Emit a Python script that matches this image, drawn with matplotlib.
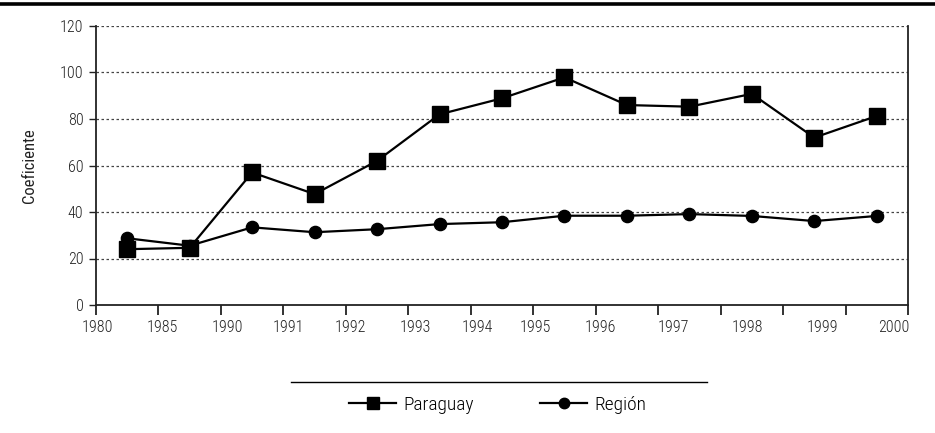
import matplotlib
matplotlib.use("Agg")
import matplotlib.pyplot as plt
from matplotlib.lines import Line2D
import matplotlib.font_manager as fm

names = {f.name for f in fm.fontManager.ttflist}
main = "Roboto Condensed" if "Roboto Condensed" in names else "Liberation Sans"
plt.rcParams['font.family'] = [main, "DejaVu Sans"]
plt.rcParams['font.weight'] = 300

# data
tick_labels = ["1980", "1985", "1990", "1991", "1992", "1993", "1994",
               "1995", "1996", "1997", "1998", "1999", "2000"]
paraguay = [24, 24.6, 57, 47.7, 62, 82, 88.9, 97.9, 86, 85.3, 90.8, 72, 81.3]
region = [28.7, 25.5, 33.4, 31.3, 32.6, 34.8, 35.6, 38.4, 38.4, 39.1, 38.3, 36.1, 38.3]

# layout: where each tick label sits along the axis (in slot units)
label_pos = [0.02, 1.06, 2.1, 3.08, 4.07, 5.11, 6.1, 7.03, 8.08, 9.25, 10.43, 11.63, 12.77]

fig = plt.figure(figsize=(9.35, 4.33), dpi=100)
ax = fig.add_axes([96/935, 1-305/433, (908-96)/935, (305-26)/433])

n = len(paraguay)
xs = [i + 0.5 for i in range(n)]
ax.plot(xs, paraguay, color="black", lw=1.6, marker="s", ms=11, zorder=3)
ax.plot(xs, region, color="black", lw=1.6, marker="o", ms=8.8, zorder=3)

ax.set_xlim(0, n)
ax.set_ylim(0, 120)
ax.set_yticks(range(0, 121, 20))
ax.set_xticks(range(0, n + 1))
ax.set_xticklabels([])
for lab, p in zip(tick_labels, label_pos):
    ax.text(p, -6.6, lab, ha="center", va="top", fontsize=11.5, color="#222222")

for y in range(20, 121, 20):
    ax.axhline(y, color="#444444", lw=0.9, ls=(0, (2, 2)), zorder=1)

ax.spines['top'].set_visible(False)
for s in ['left', 'bottom', 'right']:
    ax.spines[s].set_color("#222222")
    ax.spines[s].set_linewidth(1.3)
ax.tick_params(axis='x', direction='out', length=7, width=1.3, color="#222222")
ax.tick_params(axis='y', direction='out', length=5, width=1.0, color="#222222",
               labelsize=11.5, pad=4, labelcolor="#222222")
ax.set_ylabel("Coeficiente", fontsize=12, color="#222222")
ax.yaxis.set_label_coords(-0.073, 0.5)

# top heavy rule
fig.add_artist(Line2D([0, 1], [1 - 4/433, 1 - 4/433], color="black", lw=2.6))
# legend rule
fig.add_artist(Line2D([291/935, 707/935], [1 - 382/433, 1 - 382/433], color="black", lw=1.0))

handles = [Line2D([], [], color="black", lw=1.6, marker="s", ms=8.5),
           Line2D([], [], color="black", lw=1.6, marker="o", ms=7.5)]
fig.legend(handles, ["Paraguay", "Región"], loc="center", bbox_to_anchor=(498/935, 1 - 405/433),
           ncol=2, frameon=False, fontsize=14, columnspacing=3.4, handlelength=2.4,
           handletextpad=0.4)

fig.savefig("out.png", dpi=100)
